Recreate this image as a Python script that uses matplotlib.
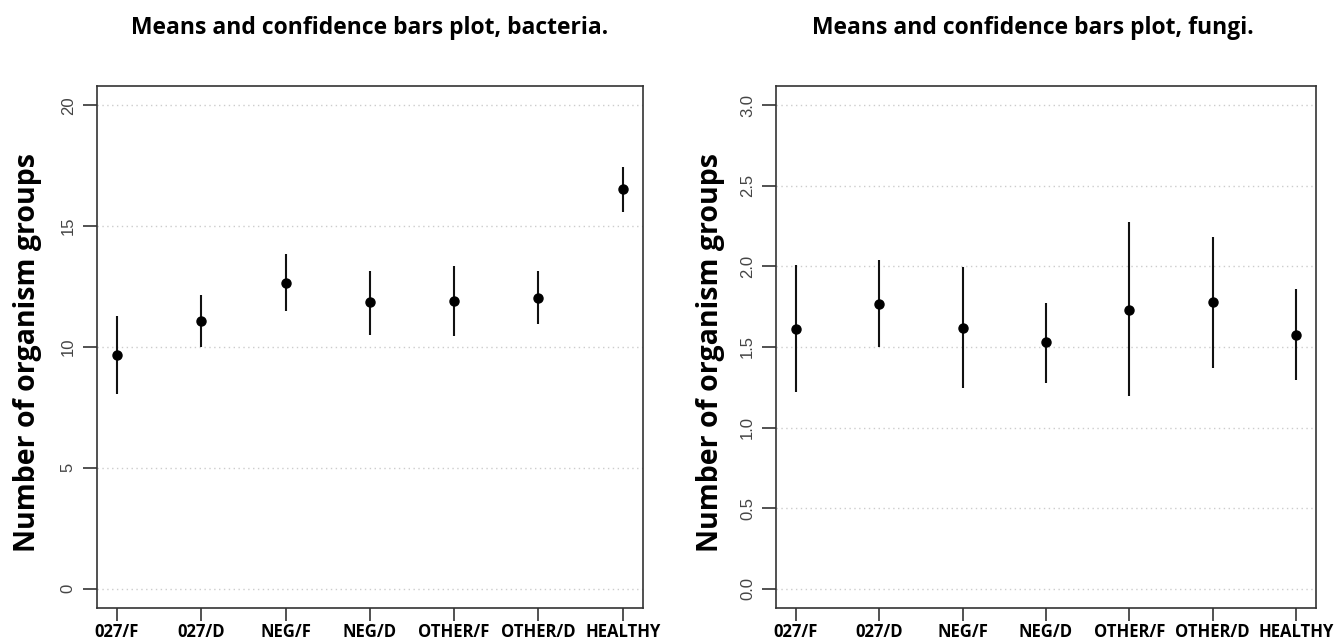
import matplotlib
matplotlib.use("Agg")
import matplotlib.pyplot as plt

groups = ["027/F", "027/D", "NEG/F", "NEG/D", "OTHER/F", "OTHER/D", "HEALTHY"]

# bacteria: mean, lower, upper of the confidence bar
bact_mean = [9.66, 11.07, 12.64, 11.85, 11.92, 12.03, 16.52]
bact_low = [8.05, 9.99, 11.49, 10.50, 10.47, 10.94, 15.59]
bact_high = [11.30, 12.15, 13.85, 13.16, 13.36, 13.15, 17.43]

# fungi
fung_mean = [1.614, 1.769, 1.621, 1.529, 1.732, 1.778, 1.575]
fung_low = [1.222, 1.501, 1.247, 1.279, 1.194, 1.367, 1.293]
fung_high = [2.009, 2.037, 1.998, 1.776, 2.273, 2.180, 1.857]

bact_ticks = [0, 5, 10, 15, 20]
fung_ticks = [0.0, 0.5, 1.0, 1.5, 2.0, 2.5, 3.0]

W, H = 1339, 642
fig = plt.figure(figsize=(W / 100, H / 100), dpi=100)

title_font = dict(family="Open Sans", weight="bold", size=16.5)
lab_font = dict(family="Open Sans", weight="bold", size=20.5)


def panel(rect, means, lows, highs, ticks, tick_fmt, ylim, title, ttl_x):
	ax = fig.add_axes(rect)
	x = list(range(1, len(groups) + 1))
	ax.vlines(x, lows, highs, color="#111111", lw=1.5, zorder=2)
	ax.plot(x, means, "o", color="#000000", ms=6.5, zorder=3)
	ax.set_xlim(0.76, 7.24)
	ax.set_ylim(*ylim)
	ax.set_yticks(ticks)
	ax.set_yticklabels([tick_fmt % t for t in ticks])
	for lbl in ax.get_yticklabels():
		lbl.set_rotation(90)
		lbl.set_va("center")
		lbl.set_family("Liberation Sans")
		lbl.set_fontsize(12)
		lbl.set_color("#444444")
	for t in ticks:
		ax.axhline(t, color="#cccccc", lw=1.0, ls=(0, (1, 2.5)), zorder=1)
	ax.set_xticks(x)
	ax.set_xticklabels(groups, family="Open Sans", weight="bold", size=12)
	ax.tick_params(axis="both", width=1.2, color="#333333")
	ax.tick_params(axis="y", length=10, pad=5)
	ax.tick_params(axis="x", length=9, pad=1.5)
	for s in ax.spines.values():
		s.set_color("#333333")
		s.set_linewidth(1.2)
	ax.set_ylabel("Number of organism groups", **lab_font)
	fig.text(ttl_x, 1 - 28 / H, title, ha="center", va="center", **title_font)
	return ax


ax1 = panel([96.7 / W, 34 / H, (643 - 96.7) / W, (608 - 86) / H],
	bact_mean, bact_low, bact_high, bact_ticks, "%d", (-0.8, 20.8),
	"Means and confidence bars plot, bacteria.", 370 / W)

ax2 = panel([776 / W, 34 / H, (1316 - 776) / W, (608 - 86) / H],
	fung_mean, fung_low, fung_high, fung_ticks, "%.1f", (-0.12, 3.12),
	"Means and confidence bars plot, fungi.", 1033 / W)

# position y labels where they sit in the original
ax1.yaxis.set_label_coords((42 - 96.7) / (643 - 96.7), 0.49)
ax2.yaxis.set_label_coords((725 - 776) / (1316 - 776), 0.49)

plt.savefig("out.png", dpi=100)
